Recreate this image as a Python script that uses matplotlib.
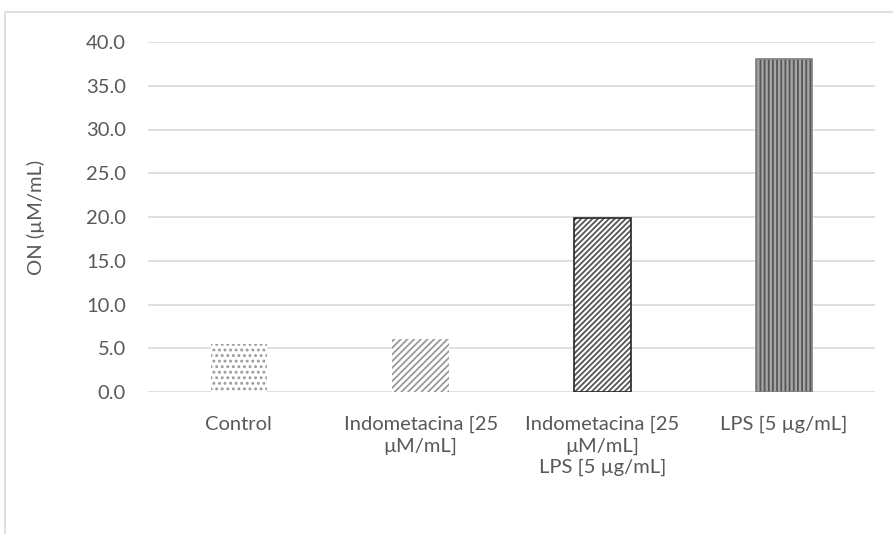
import matplotlib.pyplot as plt
from matplotlib.patches import Rectangle

plt.rcParams["font.family"] = ["Lato", "DejaVu Sans"]
plt.rcParams["hatch.linewidth"] = 1.3

FONT_SIZE = 14.5
TEXT_COLOR = "#595959"
GRID_COLOR = "#d9d9d9"

categories = [
    "Control",
    "Indometacina [25\nµM/mL]",
    "Indometacina [25\nµM/mL]\nLPS [5 µg/mL]",
    "LPS [5 µg/mL]",
]
values = [5.5, 6.1, 19.9, 38.1]
y_ticks = [0, 5, 10, 15, 20, 25, 30, 35, 40]

# per-bar fill styles (face, hatch, hatch colour, outline)
faces = ["white", "white", "white", "#a6a6a6"]
hatches = ["...", "/////", "//////", "||||"]
hatch_colors = ["#9a9a9a", "#9a9a9a", "#555555", "#555555"]
outlines = [None, None, "#262626", "#7f7f7f"]

fig = plt.figure(figsize=(8.93, 5.34), dpi=100)
ax = fig.add_axes([148 / 893, 1 - 392 / 534, 727 / 893, 350 / 534])

# chart area frame, like an office chart border
fig.patches.append(
    Rectangle((5 / 893, -0.1), 1.2, 1.1 - 12 / 534,
              transform=fig.transFigure, fill=False,
              edgecolor=GRID_COLOR, linewidth=1.2)
)

x = list(range(len(categories)))
for i in x:
    ax.bar(i, values[i], width=0.31, color=faces[i], hatch=hatches[i],
           edgecolor=hatch_colors[i], linewidth=0, zorder=3)
    if outlines[i]:
        ax.bar(i, values[i], width=0.31, fill=False,
               edgecolor=outlines[i], linewidth=1.2, zorder=4)

ax.set_xlim(-0.5, len(categories) - 0.5)
ax.set_ylim(0, 40)
ax.set_yticks(y_ticks)
ax.set_yticklabels([f"{v:.1f}" for v in y_ticks])
ax.set_xticks(x)
ax.set_xticklabels(categories, linespacing=1.3)
ax.yaxis.grid(True, color=GRID_COLOR, linewidth=1.2, zorder=0)
ax.set_axisbelow(True)
for s in ax.spines.values():
    s.set_visible(False)
ax.tick_params(axis="both", length=0, labelsize=FONT_SIZE, labelcolor=TEXT_COLOR)
ax.tick_params(axis="y", pad=16)
ax.tick_params(axis="x", pad=17)

ax.set_ylabel("ON (µM/mL)", fontsize=FONT_SIZE, color=TEXT_COLOR)
ax.yaxis.set_label_coords(-0.142, 0.5)

plt.savefig("out.png", dpi=100)
